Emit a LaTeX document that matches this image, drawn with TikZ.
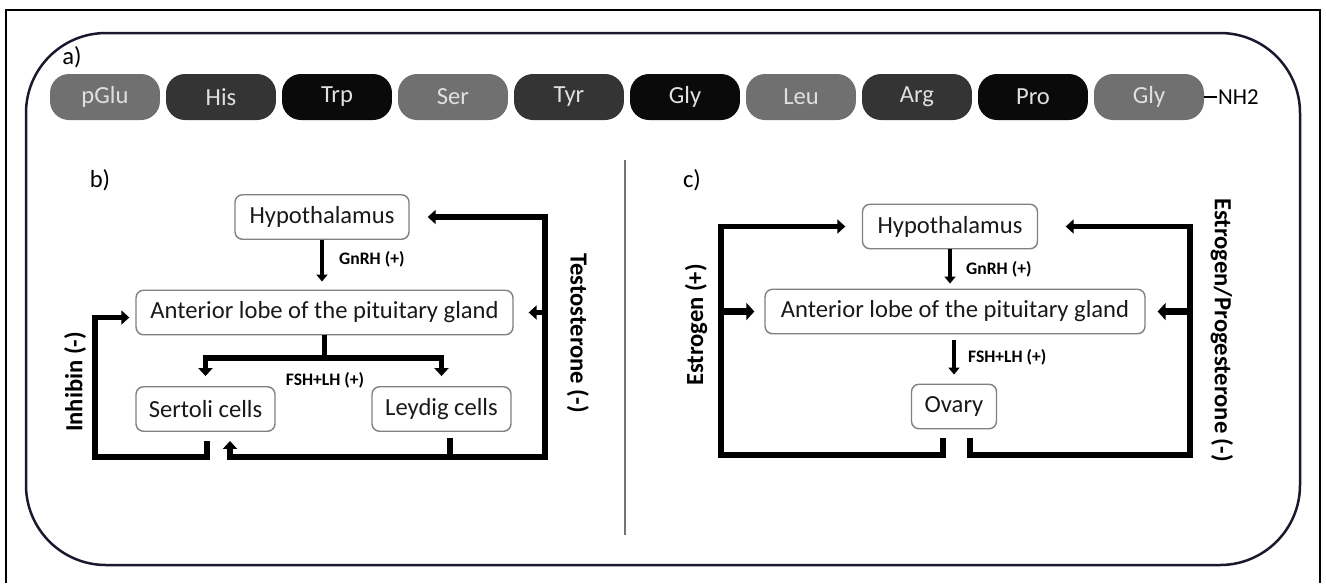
\documentclass[tikz,border=0pt]{standalone}
\usepackage{fontspec}
\setmainfont{Carlito}
\usetikzlibrary{arrows.meta}

\definecolor{framecol}{RGB}{25,25,45}
\definecolor{aagray}{RGB}{112,112,112}
\definecolor{aadark}{RGB}{52,52,52}
\definecolor{aablack}{RGB}{10,10,10}

\tikzset{
  aa/.style={rounded corners=0.38cm, minimum width=2.2cm, minimum height=0.92cm,
    text=black!12, font=\fontsize{14}{16}\selectfont},
  box/.style={draw=black!50, line width=0.8pt, rounded corners=0.15cm, fill=white,
    minimum height=0.89cm, text=black!90, font=\fontsize{14}{16}\selectfont},
  fb/.style={line width=0.11cm},
  fbarrow/.style={fb, -{Triangle[length=0.16cm, width=0.28cm]}},
  fbthick/.style={line width=0.15cm, -{Triangle[length=0.16cm, width=0.34cm]}},
  hormone/.style={line width=0.07cm, -{Triangle[length=0.14cm, width=0.22cm]}},
  side/.style={font=\bfseries\fontsize{14}{16}\selectfont},
  small/.style={font=\bfseries\fontsize{10}{12}\selectfont},
  panel/.style={font=\fontsize{14}{16}\selectfont},
}

\begin{document}
\begin{tikzpicture}[x=0.02cm, y=-0.02cm]
    \useasboundingbox (0,0) rectangle (1326,583);

    % 枠
    \draw[line width=0.04cm] (6,583) -- (6,10) -- (1320,10) -- (1320,583);
    \draw[line width=0.05cm, framecol, rounded corners=1.6cm] (26,33) rectangle (1300,565);

    % a) ペプチド
    \node[panel] (la) at (72,57) {a)};
    \node[aa, fill=aagray] (pglu) at (105,97) {pGlu};
    \node[aa, fill=aadark] (his) at (221,97) {His};
    \node[aa, fill=aablack] (trp) at (337,97) {Trp};
    \node[aa, fill=aagray] (ser) at (453,97) {Ser};
    \node[aa, fill=aadark] (tyr) at (569,97) {Tyr};
    \node[aa, fill=aablack] (gly1) at (685,97) {Gly};
    \node[aa, fill=aagray] (leu) at (801,97) {Leu};
    \node[aa, fill=aadark] (arg) at (917,97) {Arg};
    \node[aa, fill=aablack] (pro) at (1033,97) {Pro};
    \node[aa, fill=aagray] (gly2) at (1149,97) {Gly};
    \node[anchor=west, inner sep=0.5pt, font=\fontsize{13}{15}\selectfont] (nh2) at (1217,97) {NH2};
    \draw[line width=0.04cm] (gly2.east) -- (nh2.west);

    % 区切り線
    \draw[black!55, line width=0.03cm] (625,160) -- (625,535);

    % b) ノード
    \node[panel] (lb) at (100,180) {b)};
    \node[box, minimum width=3.48cm] (hypoL) at (322,217) {Hypothalamus};
    \node[box, minimum width=7.54cm] (antL) at (324.5,312.5) {Anterior lobe of the pituitary gland};
    \node[box, minimum width=2.78cm] (sertoli) at (205.5,409) {Sertoli cells};
    \node[box, minimum width=2.78cm] (leydig) at (441.5,409) {Leydig cells};
    \coordinate (brL) at (324.5,358);
    \coordinate (inhC) at (95,457);
    \coordinate (tesC) at (545,457);
    \coordinate (tesUp) at (230,457);

    % b) エッジ
    \draw[hormone, shorten >=0.16cm] (hypoL.south) -- (hypoL.south |- antL.north);
    \node[small, anchor=west] (gnrhL) at (333,259) {GnRH (+)};
    \draw[fb] (antL.south) -- (brL);
    \draw[fbarrow, shorten >=0.2cm] (brL) -| (sertoli.north);
    \draw[fbarrow, shorten >=0.2cm] (brL) -| (leydig.north);
    \node[small] (fshL) at (325,380) {FSH+LH (+)};
    \draw[fbarrow, shorten >=0.12cm] ([xshift=0.03cm, yshift=-0.18cm]sertoli.south) |- (inhC) |- ([yshift=-0.1cm]antL.west);
    \draw[fbarrow, shorten >=0.36cm] ([xshift=0.17cm, yshift=-0.12cm]leydig.south) |- (tesC) |- (hypoL.east);
    \draw[fbarrow, shorten >=0.18cm] ([xshift=0.17cm, yshift=-0.12cm]leydig.south) |- (tesUp) -- (tesUp |- sertoli.south);
    \draw[fbarrow, shorten >=0.3cm] (tesC |- antL.east) -- (antL.east);
    \node[side, rotate=90] (inhibin) at (75,382) {Inhibin (-)};
    \node[side, rotate=-90] (testo) at (578,333) {Testosterone (-)};

    % c) ノード
    \node[panel] (lc) at (692,180) {c)};
    \node[box, minimum width=3.5cm] (hypoR) at (950,226.5) {Hypothalamus};
    \node[box, minimum width=7.6cm] (antR) at (955,311.5) {Anterior lobe of the pituitary gland};
    \node[box, minimum width=1.7cm] (ovary) at (954,406.5) {Ovary};
    \coordinate (estC) at (721,455);
    \coordinate (progC) at (1190,455);

    % c) エッジ
    \draw[hormone, shorten >=0.1cm] (hypoR.south) -- (hypoR.south |- antR.north);
    \node[small, anchor=west] (gnrhR) at (960,269) {GnRH (+)};
    \draw[hormone, shorten <=0.12cm, shorten >=0.18cm] (ovary.north |- antR.south) -- (ovary.north);
    \node[small, anchor=west] (fshR) at (962,357) {FSH+LH (+)};
    \draw[fbarrow, shorten >=0.33cm] ([xshift=-0.22cm, yshift=-0.18cm]ovary.south) |- (estC) |- (hypoR.west);
    \draw[fbthick, shorten >=0.2cm] (estC |- antR.west) -- (antR.west);
    \draw[fbarrow, shorten >=0.55cm] ([xshift=0.32cm, yshift=-0.18cm]ovary.south) |- (progC) |- (hypoR.east);
    \draw[fbthick, shorten >=0.24cm] (progC |- antR.east) -- (antR.east);
    \node[side, rotate=90] (estro) at (696,325) {Estrogen (+)};
    \node[side, rotate=-90] (prog) at (1222,330) {Estrogen/Progesterone (-)};
\end{tikzpicture}
\end{document}
